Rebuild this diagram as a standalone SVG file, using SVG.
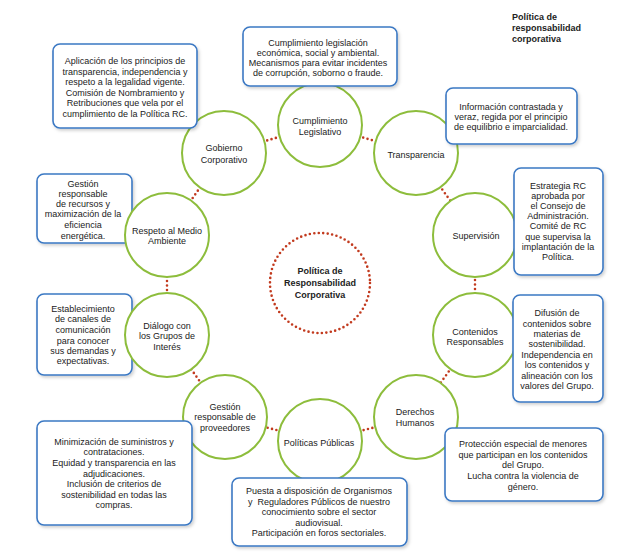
<svg xmlns="http://www.w3.org/2000/svg" width="644" height="559" viewBox="0 0 644 559">
<defs>
<filter id="sh" x="-10%" y="-10%" width="130%" height="130%">
<feDropShadow dx="1.5" dy="2" stdDeviation="1.5" flood-color="#000" flood-opacity="0.18"/>
</filter>
<style>
.box{fill:#fff;stroke:#3b78c3;stroke-width:1.6;filter:url(#sh)}
.circ{fill:#fff;stroke:#8dbd3c;stroke-width:2}
.t{font-family:"Liberation Sans",Arial,sans-serif;font-size:9px;fill:#222;text-anchor:middle}
.b{font-weight:bold}
.dot{stroke:#c23a1e;stroke-width:2.6;stroke-linecap:round;stroke-dasharray:0 4.5;fill:none}
</style>
</defs>
<rect width="644" height="559" fill="#fff"/>

<g id="title">
<text class="t b" style="text-anchor:start" x="512" y="20">Política de</text>
<text class="t b" style="text-anchor:start" x="512" y="31">responsabilidad</text>
<text class="t b" style="text-anchor:start" x="512" y="42">corporativa</text>
</g>

<g id="connectors">
<line class="dot" x1="320" y1="125" x2="416" y2="153"/>
<line class="dot" x1="416" y1="153" x2="475" y2="235"/>
<line class="dot" x1="475" y1="235" x2="475" y2="335"/>
<line class="dot" x1="475" y1="335" x2="416" y2="417"/>
<line class="dot" x1="416" y1="417" x2="320" y2="441"/>
<line class="dot" x1="320" y1="441" x2="225" y2="417"/>
<line class="dot" x1="225" y1="417" x2="167" y2="335"/>
<line class="dot" x1="167" y1="335" x2="167" y2="235"/>
<line class="dot" x1="167" y1="235" x2="224" y2="153"/>
<line class="dot" x1="224" y1="153" x2="320" y2="125"/>
</g>

<g id="center">
<circle cx="320" cy="283" r="50" class="dot" stroke-dasharray="0 5.236"/>
<text class="t b" x="320" y="274">Política de</text>
<text class="t b" x="320" y="286">Responsabilidad</text>
<text class="t b" x="320" y="298">Corporativa</text>
</g>

<g id="gobierno">
<circle class="circ" cx="224" cy="153" r="42"/>
<text class="t" x="224" y="151">Gobierno</text>
<text class="t" x="224" y="163">Corporativo</text>
<rect class="box" x="53" y="44" width="144" height="84" rx="7"/>
<text class="t" x="125" y="64">Aplicación de los principios de</text>
<text class="t" x="125" y="74.5">transparencia, independencia y</text>
<text class="t" x="125" y="85">respeto a la legalidad vigente.</text>
<text class="t" x="125" y="95.5">Comisión de Nombramiento y</text>
<text class="t" x="125" y="106">Retribuciones que vela por el</text>
<text class="t" x="125" y="116.5">cumplimiento de la Política RC.</text>
</g>

<g id="cumplimiento">
<circle class="circ" cx="320" cy="125" r="42"/>
<text class="t" x="320" y="124">Cumplimiento</text>
<text class="t" x="320" y="135">Legislativo</text>
<rect class="box" x="243" y="27" width="154" height="59" rx="7"/>
<text class="t" x="318" y="46">Cumplimiento legislación</text>
<text class="t" x="318" y="56">económica, social y ambiental.</text>
<text class="t" x="318" y="66">Mecanismos para evitar incidentes</text>
<text class="t" x="318" y="76">de corrupción, soborno o fraude.</text>
</g>

<g id="transparencia">
<circle class="circ" cx="416" cy="153" r="42"/>
<text class="t" x="416" y="158">Transparencia</text>
<rect class="box" x="446" y="88" width="131" height="56" rx="7"/>
<text class="t" x="511" y="110">Información contrastada y</text>
<text class="t" x="511" y="120">veraz, regida por el principio</text>
<text class="t" x="511" y="130">de equilibrio e imparcialidad.</text>
</g>

<g id="supervision">
<circle class="circ" cx="475" cy="235" r="42"/>
<text class="t" x="476" y="239">Supervisión</text>
<rect class="box" x="514" y="168" width="89" height="107" rx="7"/>
<text class="t" x="558" y="189">Estrategia RC</text>
<text class="t" x="558" y="199">aprobada por</text>
<text class="t" x="558" y="209">el Consejo de</text>
<text class="t" x="558" y="219">Administración.</text>
<text class="t" x="558" y="229">Comité de RC</text>
<text class="t" x="558" y="239.5">que supervisa la</text>
<text class="t" x="558" y="250">implantación de la</text>
<text class="t" x="558" y="260">Política.</text>
</g>

<g id="contenidos">
<circle class="circ" cx="475" cy="335" r="42"/>
<text class="t" x="475" y="335">Contenidos</text>
<text class="t" x="475" y="345">Responsables</text>
<rect class="box" x="513" y="295" width="90" height="107" rx="7"/>
<text class="t" x="557" y="316">Difusión de</text>
<text class="t" x="557" y="326.5">contenidos sobre</text>
<text class="t" x="557" y="337">materias de</text>
<text class="t" x="557" y="347">sostenibilidad.</text>
<text class="t" x="557" y="357.5">Independencia en</text>
<text class="t" x="557" y="368">los contenidos y</text>
<text class="t" x="557" y="379">alineación con los</text>
<text class="t" x="557" y="389">valores del Grupo.</text>
</g>

<g id="derechos">
<circle class="circ" cx="416" cy="417" r="42"/>
<text class="t" x="415" y="415">Derechos</text>
<text class="t" x="415" y="426">Humanos</text>
<rect class="box" x="445" y="428" width="158" height="73" rx="7"/>
<text class="t" x="523" y="447">Protección especial de menores</text>
<text class="t" x="523" y="458">que participan en los contenidos</text>
<text class="t" x="523" y="468">del Grupo.</text>
<text class="t" x="523" y="479">Lucha contra la violencia de</text>
<text class="t" x="523" y="490">género.</text>
</g>

<g id="politicas">
<circle class="circ" cx="320" cy="441" r="42"/>
<text class="t" x="319" y="446">Políticas Públicas</text>
<rect class="box" x="232" y="478" width="175" height="68" rx="7"/>
<text class="t" x="319" y="494">Puesta a disposición de Organismos</text>
<text class="t" x="319" y="505" xml:space="preserve">y  Reguladores Públicos de nuestro</text>
<text class="t" x="319" y="515">conocimiento sobre el sector</text>
<text class="t" x="319" y="526">audiovisual.</text>
<text class="t" x="319" y="536">Participación en foros sectoriales.</text>
</g>

<g id="proveedores">
<circle class="circ" cx="225" cy="417" r="42"/>
<text class="t" x="225" y="410">Gestión</text>
<text class="t" x="225" y="420">responsable de</text>
<text class="t" x="225" y="431">proveedores</text>
<rect class="box" x="37" y="421" width="155" height="104" rx="7"/>
<text class="t" x="114" y="445">Minimización de suministros y</text>
<text class="t" x="114" y="455">contrataciones.</text>
<text class="t" x="114" y="466">Equidad y transparencia en las</text>
<text class="t" x="114" y="477">adjudicaciones.</text>
<text class="t" x="114" y="487">Inclusión de criterios de</text>
<text class="t" x="114" y="498">sostenibilidad en todas las</text>
<text class="t" x="114" y="508">compras.</text>
</g>

<g id="dialogo">
<rect class="box" x="37" y="294" width="95" height="81" rx="7"/>
<text class="t" x="83" y="312">Establecimiento</text>
<text class="t" x="83" y="322">de canales de</text>
<text class="t" x="83" y="333">comunicación</text>
<text class="t" x="83" y="344">para conocer</text>
<text class="t" x="83" y="354">sus demandas y</text>
<text class="t" x="83" y="364">expectativas.</text>
<circle class="circ" cx="167" cy="335" r="42"/>
<text class="t" x="167" y="329">Diálogo con</text>
<text class="t" x="167" y="339">los Grupos de</text>
<text class="t" x="167" y="350">Interés</text>
</g>

<g id="respeto">
<rect class="box" x="37" y="174" width="95" height="69" rx="7"/>
<text class="t" x="83" y="187">Gestión</text>
<text class="t" x="83" y="197">responsable</text>
<text class="t" x="83" y="207">de recursos y</text>
<text class="t" x="83" y="217">maximización de la</text>
<text class="t" x="83" y="228">eficiencia</text>
<text class="t" x="83" y="239">energética.</text>
<circle class="circ" cx="167" cy="235" r="42"/>
<text class="t" x="167" y="234">Respeto al Medio</text>
<text class="t" x="167" y="244">Ambiente</text>
</g>
</svg>
